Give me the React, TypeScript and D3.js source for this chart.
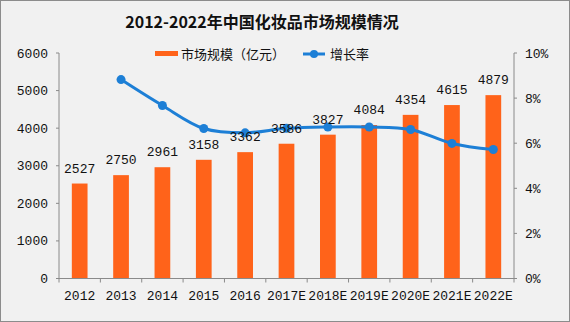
import React from "react";
import * as d3 from "d3";

const categories = ["2012", "2013", "2014", "2015", "2016", "2017E", "2018E", "2019E", "2020E", "2021E", "2022E"];
const marketSize = [2527, 2750, 2961, 3158, 3362, 3586, 3827, 4084, 4354, 4615, 4879];
const growthRate: (number | null)[] = [null, 8.82, 7.67, 6.65, 6.46, 6.66, 6.72, 6.72, 6.61, 5.99, 5.72];
const leftTicks = [0, 1000, 2000, 3000, 4000, 5000, 6000];
const rightTicks = [0, 2, 4, 6, 8, 10];

const W = 570;
const H = 322;
const M = { left: 59, right: 514, top: 53, bottom: 278.5 };
const ORANGE = "#ff631a";
const BLUE = "#1d7fd6";
const AXIS = "#8a8a8a";
const NUM_FONT = "'Liberation Mono', 'DejaVu Sans Mono', monospace";
const CJK_FONT = "'Noto Sans CJK SC', sans-serif";

export default function App() {
  const x = d3.scaleBand<string>().domain(categories).range([M.left, M.right]).paddingInner(0.62).paddingOuter(0.31);
  const xb = d3.scaleBand<string>().domain(categories).range([M.left, M.right]);
  const yL = d3.scaleLinear().domain([0, 6000]).range([M.bottom, M.top]);
  const yR = d3.scaleLinear().domain([0, 10]).range([M.bottom, M.top]);

  const pts = categories
    .map((c, i) => ({ c, v: growthRate[i] }))
    .filter((d) => d.v !== null) as { c: string; v: number }[];
  const line = d3
    .line<{ c: string; v: number }>()
    .x((d) => (xb(d.c) as number) + xb.bandwidth() / 2)
    .y((d) => yR(d.v))
    .curve(d3.curveCatmullRom.alpha(0.5));

  return (
    <>
      <style>{"body{margin:0}"}</style>
      <svg width={W} height={H} style={{ display: "block" }}>
        <rect x={0.5} y={0.5} width={W - 1} height={H - 1} fill="#f1f1f1" stroke="#8c8c8c" />
        <text x={262} y={28} textAnchor="middle" fontFamily={CJK_FONT} fontWeight="bold" fontSize={16} fill="#111">
          2012-2022年中国化妆品市场规模情况
        </text>

        {/* legend */}
        <rect x={155} y={51} width={23} height={5} fill={ORANGE} />
        <text x={181} y={59} fontFamily={CJK_FONT} fontSize={13} fill="#111">市场规模（亿元）</text>
        <line x1={303} x2={325} y1={54} y2={54} stroke={BLUE} strokeWidth={3} />
        <circle cx={314} cy={54} r={4} fill={BLUE} />
        <text x={330} y={59} fontFamily={CJK_FONT} fontSize={13} fill="#111">增长率</text>

        {/* left axis */}
        <line x1={M.left} x2={M.left} y1={M.top} y2={M.bottom} stroke={AXIS} />
        {leftTicks.map((t) => (
          <g key={t}>
            <line x1={M.left - 3} x2={M.left} y1={yL(t)} y2={yL(t)} stroke={AXIS} />
            <text x={M.left - 11} y={yL(t) + 4.5} textAnchor="end" fontFamily={NUM_FONT} fontSize={13} fill="#111">{t}</text>
          </g>
        ))}

        {/* right axis */}
        <line x1={M.right} x2={M.right} y1={M.top} y2={M.bottom} stroke={AXIS} />
        {rightTicks.map((t) => (
          <g key={t}>
            <line x1={M.right} x2={M.right + 3} y1={yR(t)} y2={yR(t)} stroke={AXIS} />
            <text x={M.right + 11} y={yR(t) + 4.5} fontFamily={NUM_FONT} fontSize={13} fill="#111">{t}%</text>
          </g>
        ))}

        {/* bars */}
        {categories.map((c, i) => (
          <rect key={c} x={x(c)} y={yL(marketSize[i])} width={x.bandwidth()} height={M.bottom - yL(marketSize[i])} fill={ORANGE} />
        ))}

        {/* x axis */}
        <line x1={M.left} x2={M.right} y1={M.bottom} y2={M.bottom} stroke={AXIS} />
        {categories.map((c) => (
          <line key={c} x1={xb(c)} x2={xb(c)} y1={M.bottom} y2={M.bottom + 4} stroke={AXIS} />
        ))}
        <line x1={M.right} x2={M.right} y1={M.bottom} y2={M.bottom + 4} stroke={AXIS} />
        {categories.map((c) => (
          <text key={c} x={(xb(c) as number) + xb.bandwidth() / 2} y={300} textAnchor="middle" fontFamily={NUM_FONT} fontSize={13} fill="#111">{c}</text>
        ))}

        {/* line */}
        <path d={line(pts) || ""} fill="none" stroke={BLUE} strokeWidth={3} />
        {pts.map((d) => (
          <circle key={d.c} cx={(xb(d.c) as number) + xb.bandwidth() / 2} cy={yR(d.v)} r={4.5} fill={BLUE} />
        ))}

        {/* data labels */}
        {categories.map((c, i) => (
          <text key={c} x={(xb(c) as number) + xb.bandwidth() / 2} y={yL(marketSize[i]) - 11} textAnchor="middle" fontFamily={NUM_FONT} fontSize={13} fill="#111">{marketSize[i]}</text>
        ))}
      </svg>
    </>
  );
}
